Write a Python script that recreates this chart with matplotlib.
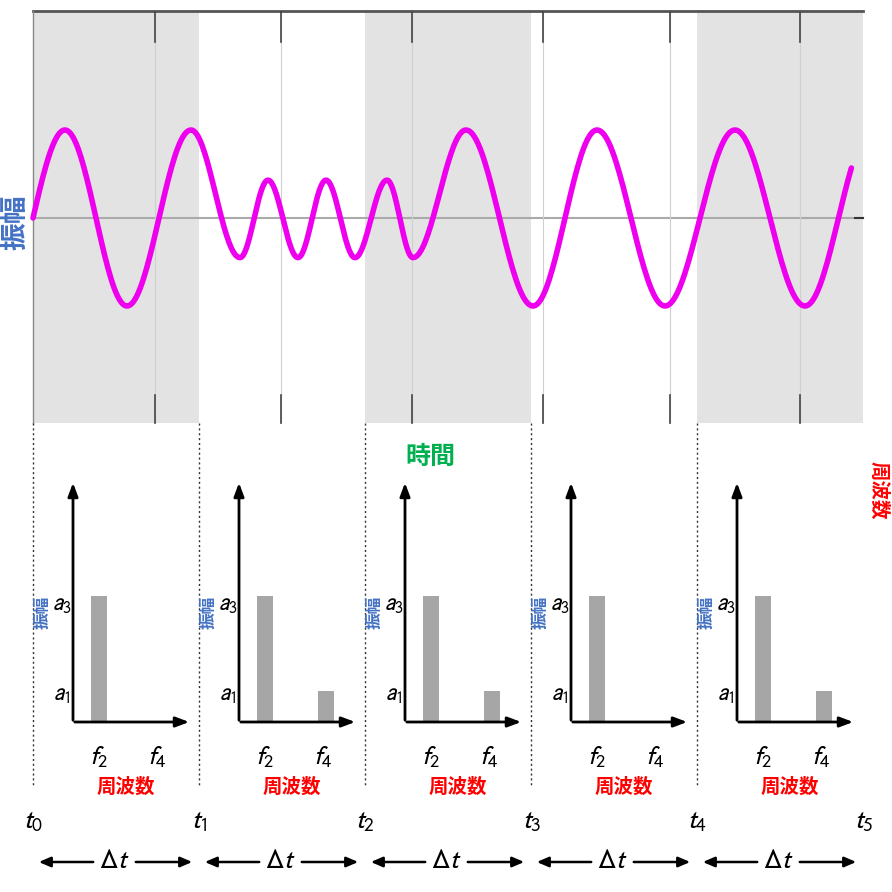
import numpy as np
import matplotlib
matplotlib.use("Agg")
import matplotlib.pyplot as plt
from matplotlib.patches import Rectangle

# ---- data ----
t_pos = [33, 199, 365, 531, 697, 863]          # segment boundaries (px)
t_labels = ["$t_0$", "$t_1$", "$t_2$", "$t_3$", "$t_4$", "$t_5$"]
# waveform extrema: x position (px) and amplitude (relative)
ext_x = [33, 65, 127, 191, 240, 268, 298, 326, 355, 387, 413, 466, 533, 597, 665, 735, 805, 872]
ext_a = [0.0, 1.0, -1.0, 1.0, -0.45, 0.43, -0.45, 0.43, -0.45, 0.43, -0.45, 1.0, -1.0, 1.0, -1.0, 1.0, -1.0, 1.0]
wave_end = 853
# spectra per segment: heights at f2, f4 (0 = absent)
spec_f2 = [1.0, 1.0, 1.0, 1.0, 1.0]
spec_f4 = [0.0, 0.25, 0.25, 0.0, 0.25]
shade = [True, False, True, False, True]
grid_x = [155, 281, 412, 543, 670, 800]

plt.rcParams["mathtext.fontset"] = "stixsans"
fig = plt.figure(figsize=(8.92, 8.92), dpi=100)
ax = fig.add_axes([0, 0, 1, 1])
ax.set_xlim(0, 892); ax.set_ylim(892, 0); ax.axis("off")
JP = ["Noto Sans CJK JP", "DejaVu Sans"]

# top panel
Y0, Y1, YC, AMP = 10, 423, 218, 88
for i in range(5):
    ax.add_patch(Rectangle((t_pos[i], Y0), t_pos[i+1]-t_pos[i], Y1-Y0,
                           color="#e3e3e3" if shade[i] else "white", zorder=0, lw=0))
ax.plot([33, 863], [11, 11], color="#555555", lw=2, zorder=2)
ax.plot([33, 33], [11, 423], color="#888888", lw=1, zorder=2)
ax.plot([33, 863], [YC, YC], color="#aaaaaa", lw=1.5, zorder=1)
ax.plot([855, 863], [YC, YC], color="#333333", lw=1.5, zorder=2)
for gx in grid_x:
    ax.plot([gx, gx], [12, 423], color="#d0d0d0", lw=0.8, zorder=1)
    ax.plot([gx, gx], [12, 42], color="#444444", lw=1.2, zorder=2)
    ax.plot([gx, gx], [395, 423], color="#444444", lw=1.2, zorder=2)

xs, ys = [], []
for j in range(len(ext_x) - 1):
    xa, xb = ext_x[j], ext_x[j+1]
    aa, ab = ext_a[j], ext_a[j+1]
    if j == 0:
        s = np.linspace(0, 1, 30)
        seg = ab * np.sin(s * np.pi / 2)
    else:
        s = np.linspace(0, 1, 40)
        seg = aa + (ab - aa) * (1 - np.cos(s * np.pi)) / 2
    xx = xa + (xb - xa) * s
    xs.append(xx); ys.append(seg)
xs = np.concatenate(xs); ys = np.concatenate(ys)
m = xs <= wave_end
ax.plot(xs[m], YC - AMP * ys[m], color="#ee00ee", lw=4, zorder=3, solid_capstyle="round")

ax.text(15, 222, "振幅", rotation=90, ha="center", va="center", color="#4472c4",
        fontsize=20, fontweight="bold", family=JP)
ax.text(430, 457, "時間", ha="center", va="center", color="#00b050",
        fontsize=18, fontweight="bold", family=JP)
ax.text(878, 490, "周波数", rotation=-90, ha="center", va="center", color="red",
        fontsize=14, fontweight="bold", family=JP)

for i in range(5):
    t = t_pos[i]
    ax.plot([t, t], [423, 785], color="#333333", lw=1, ls=(0, (1.5, 2)), zorder=2)
    ox, oy = t + 40, 722
    ax.annotate("", xy=(ox, 480), xytext=(ox, oy + 1),
                arrowprops=dict(arrowstyle="-|>,head_length=0.8,head_width=0.3", color="black", lw=2))
    ax.annotate("", xy=(t + 159, oy), xytext=(ox - 1, oy),
                arrowprops=dict(arrowstyle="-|>,head_length=0.8,head_width=0.3", color="black", lw=2))
    H = 126
    for fx, h in ((t + 66, spec_f2[i]), (t + 127, spec_f4[i])):
        if h > 0:
            ax.add_patch(Rectangle((fx - 8, oy - H * h), 16, H * h, color="#a6a6a6", zorder=1, lw=0))
    ax.text(t + 29, 604, "$a_3$", ha="center", va="center", fontsize=17)
    ax.text(t + 29, 694, "$a_1$", ha="center", va="center", fontsize=17)
    ax.text(t + 66, 757, "$f_2$", ha="center", va="center", fontsize=19)
    ax.text(t + 124, 757, "$f_4$", ha="center", va="center", fontsize=19)
    ax.text(t + 10, 612, "振幅", rotation=90, ha="center", va="center", color="#4472c4",
            fontsize=12, fontweight="bold", family=JP)
    ax.text(t + 93, 787, "周波数", ha="center", va="center", color="red",
            fontsize=14, fontweight="bold", family=JP)
    ax.annotate("", xy=(t + 3, 862), xytext=(t + 63, 862),
                arrowprops=dict(arrowstyle="-|>,head_length=0.7,head_width=0.3", color="black", lw=1.8))
    ax.annotate("", xy=(t + 162, 862), xytext=(t + 100, 862),
                arrowprops=dict(arrowstyle="-|>,head_length=0.7,head_width=0.3", color="black", lw=1.8))
    ax.text(t + 81, 860, r"$\Delta t$", ha="center", va="center", fontsize=20)
for i, t in enumerate(t_pos):
    ax.text(t, 820, t_labels[i], ha="center", va="center", fontsize=20)

fig.savefig("out.png", dpi=100)
